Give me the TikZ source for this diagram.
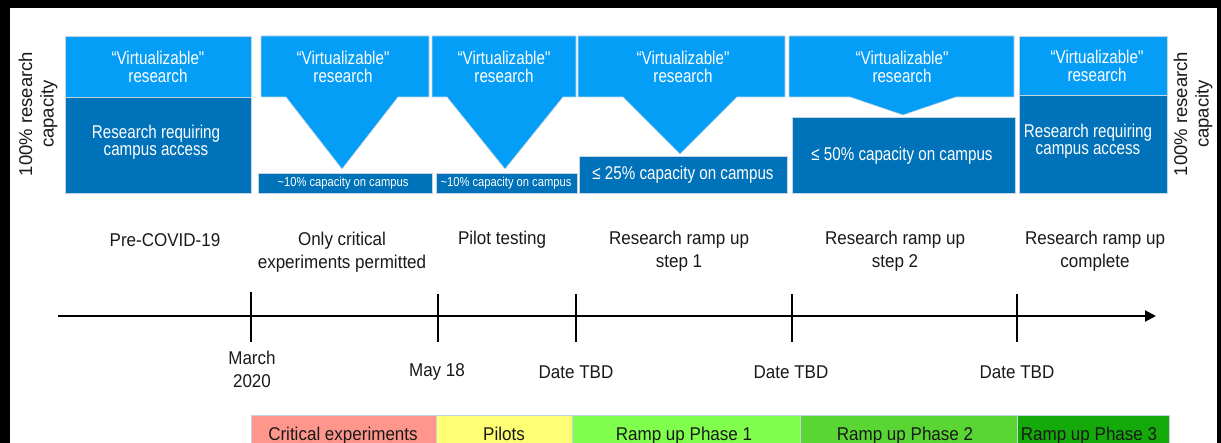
\documentclass[tikz,border=0pt]{standalone}
\usepackage{fontspec}
\setmainfont{Liberation Sans}
\newfontfamily\boxfont[FakeStretch=0.82]{Liberation Sans}
\newfontfamily\labfont[FakeStretch=0.92]{Liberation Sans}
\newfontfamily\smallfont[FakeStretch=0.86]{Liberation Sans}
\usetikzlibrary{arrows.meta}
\definecolor{lblue}{RGB}{5,158,247}
\definecolor{dblue}{RGB}{0,114,185}
\definecolor{edgec}{RGB}{196,212,226}
\definecolor{barc1}{RGB}{255,150,140}
\definecolor{barc2}{RGB}{255,255,115}
\definecolor{barc3}{RGB}{128,255,76}
\definecolor{barc4}{RGB}{89,214,51}
\definecolor{barc5}{RGB}{20,170,10}
\definecolor{txt}{RGB}{25,25,25}
\tikzset{
  lightpart/.style={fill=lblue, draw=edgec, line width=0.6pt},
  darkpart/.style={fill=dblue, draw=edgec, line width=0.6pt},
  boxtext/.style={text=white, align=center, inner sep=0pt, font=\boxfont\fontsize{18.5}{17.5}\selectfont},
  smalltext/.style={text=white, align=center, inner sep=0pt, font=\smallfont\fontsize{13}{14}\selectfont},
  labtext/.style={text=txt, align=center, inner sep=0pt, font=\labfont\fontsize{18.5}{23}\selectfont},
  sidetext/.style={text=txt, align=center, inner sep=0pt, rotate=90, font=\fontsize{18.5}{21.5}\selectfont},
  phasebar/.style={draw=edgec, line width=0.6pt},
  tickline/.style={line width=1.8pt, draw=black},
}
\begin{document}
\begin{tikzpicture}[x=1pt,y=-1pt]
\useasboundingbox (0,0) rectangle (1221,443);
\fill[black] (0,0) rectangle (1221,443);
\fill[white] (10,8) rectangle (1217,443);
\begin{scope}
\clip (10,8) rectangle (1217,443);

% Box 1: Pre-COVID
\filldraw[lightpart] (65,36) rectangle (251,97);
\filldraw[darkpart] (65,97) rectangle (251,193);
\node[boxtext] (v1) at (158,67) {“Virtualizable"\\research};
\node[boxtext] (c1) at (156,142) {Research requiring\\campus access};

% Box 2
\filldraw[lightpart] (261,36) -- (429,36) -- (429,97) -- (398,97) -- (342,169) -- (286,97) -- (261,97) -- cycle;
\filldraw[darkpart] (258,173) rectangle (432,193);
\node[boxtext] (v2) at (343,67) {“Virtualizable"\\research};
\node[smalltext] (c2) at (343,183) {\textasciitilde10\% capacity on campus};

% Box 3
\filldraw[lightpart] (432,36) -- (576,36) -- (576,97) -- (563,97) -- (505,169) -- (447,97) -- (432,97) -- cycle;
\filldraw[darkpart] (436,173) rectangle (577,193);
\node[boxtext] (v3) at (504,67) {“Virtualizable"\\research};
\node[smalltext] (c3) at (506,183) {\textasciitilde10\% capacity on campus};

% Box 4
\filldraw[lightpart] (578,36) -- (785,36) -- (785,97) -- (737,97) -- (680,154) -- (623,97) -- (578,97) -- cycle;
\filldraw[darkpart] (579,156) rectangle (787,193);
\node[boxtext] (v4) at (683,67) {“Virtualizable"\\research};
\node[boxtext] (c4) at (683,175) {≤ 25\% capacity on campus};

% Box 5
\filldraw[lightpart] (789,36) -- (1014,36) -- (1014,97) -- (956,97) -- (903,115) -- (850,97) -- (789,97) -- cycle;
\filldraw[darkpart] (792,117) rectangle (1015,193);
\node[boxtext] (v5) at (902,67) {“Virtualizable"\\research};
\node[boxtext] (c5) at (902,156) {≤ 50\% capacity on campus};

% Box 6
\filldraw[lightpart] (1019,36) rectangle (1167,95);
\filldraw[darkpart] (1019,95) rectangle (1167,193);
\node[boxtext] (v6) at (1097,66) {“Virtualizable"\\research};
\node[boxtext] (c6) at (1088,141) {Research requiring\\campus access};

% side labels
\node[sidetext] (sl) at (38,114) {100\% research\\capacity};
\node[sidetext] (sr) at (1193,114) {100\% research\\capacity};

% stage labels
\node[labtext] (s1) at (165,240) {Pre-COVID-19};
\node[labtext] (s2) at (342,252) {Only critical\\experiments permitted};
\node[labtext] (s3) at (502,240) {Pilot testing};
\node[labtext] (s4) at (679,251) {Research ramp up\\step 1};
\node[labtext] (s5) at (895,251) {Research ramp up\\step 2};
\node[labtext] (s6) at (1095,251) {Research ramp up\\complete};

% timeline
\coordinate (t0) at (58,316);
\coordinate (t1) at (1156,316);
\draw[line width=2pt, -{Triangle[length=11pt,width=11pt]}] (t0) -- (t1);
\coordinate (k1a) at (251,292); \coordinate (k1b) at (251,342);
\coordinate (k2a) at (438,294); \coordinate (k2b) at (438,342);
\coordinate (k3a) at (576,294); \coordinate (k3b) at (576,342);
\coordinate (k4a) at (792,294); \coordinate (k4b) at (792,342);
\coordinate (k5a) at (1017,294); \coordinate (k5b) at (1017,342);
\draw[tickline] (k1a) -- (k1b);
\draw[tickline] (k2a) -- (k2b);
\draw[tickline] (k3a) -- (k3b);
\draw[tickline] (k4a) -- (k4b);
\draw[tickline] (k5a) -- (k5b);

% dates
\node[labtext] (d1) at (252,369) {March\\2020};
\node[labtext] (d2) at (437,372) {May 18};
\node[labtext] (d3) at (576,372) {Date TBD};
\node[labtext] (d4) at (791,372) {Date TBD};
\node[labtext] (d5) at (1017,372) {Date TBD};

% phase bars
\filldraw[phasebar, fill=barc1] (251,415) rectangle (436,460);
\filldraw[phasebar, fill=barc2] (436,415) rectangle (572,460);
\filldraw[phasebar, fill=barc3] (572,415) rectangle (800,460);
\filldraw[phasebar, fill=barc4] (800,415) rectangle (1017,460);
\filldraw[phasebar, fill=barc5] (1017,415) rectangle (1169,460);
\node[labtext, anchor=base] (p1) at (343,441) {Critical experiments};
\node[labtext, anchor=base] (p2) at (504,441) {Pilots};
\node[labtext, anchor=base] (p3) at (684,441) {Ramp up Phase 1};
\node[labtext, anchor=base] (p4) at (905,441) {Ramp up Phase 2};
\node[labtext, anchor=base] (p5) at (1089,441) {Ramp up Phase 3};
\end{scope}
\end{tikzpicture}
\end{document}
